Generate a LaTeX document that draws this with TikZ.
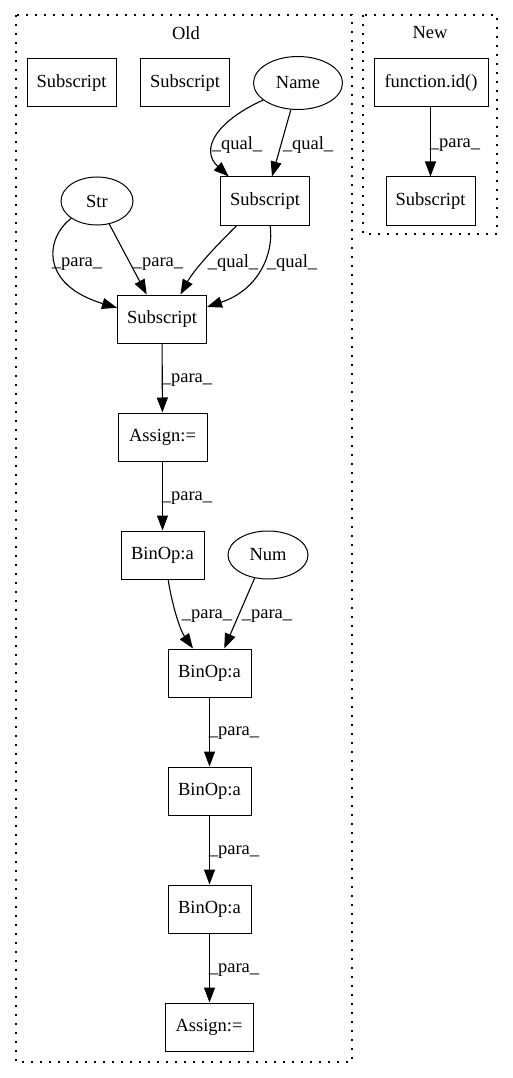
\documentclass[tikz,border=0pt]{standalone}
\usepackage{fontspec}
\setmainfont{Liberation Serif}
\usetikzlibrary{shapes.geometric,arrows.meta}
\begin{document}
\begin{tikzpicture}[x=1pt,y=-1pt,
  every node/.style={font=\fontsize{18.5}{20}\selectfont},
  box/.style={draw,line width=1pt,rectangle,inner sep=0pt,minimum height=48pt},
  oval/.style={draw,line width=1pt,ellipse,inner sep=0pt},
  lbl/.style={inner sep=0pt},
  cluster/.style={line width=1.3pt,dash pattern=on 1.6pt off 7.4pt},
  edge/.style={line width=1.1pt,-{Triangle[length=15pt,width=11pt]}}]
\useasboundingbox (0,0) rectangle (513,1078);

% clusters
\draw[cluster] (16,15) rectangle (352,1062);
\draw[cluster] (363,15) rectangle (497,234);
\node[lbl] (oldt) at (186,33) {Old};
\node[lbl] (newt) at (430,33) {New};

% Old
\node[box,minimum width=89pt] (s1) at (71.5,83) {Subscript};
\node[box,minimum width=89pt] (s2) at (185,83) {Subscript};
\node[oval,minimum width=89pt,minimum height=53pt] (name) at (298,83) {Name};
\node[oval,minimum width=72pt,minimum height=48pt] (str) at (97,201) {Str};
\node[box,minimum width=89pt] (s3) at (265,201) {Subscript};
\node[box,minimum width=89pt] (s4) at (162,319) {Subscript};
\node[box,minimum width=89pt] (as1) at (162.5,437) {Assign:=};
\node[box,minimum width=83pt] (b1) at (162.5,555) {BinOp:a};
\node[oval,minimum width=80pt,minimum height=48pt] (num) at (268,555) {Num};
\node[box,minimum width=83pt] (b2) at (209.5,673) {BinOp:a};
\node[box,minimum width=83pt] (b3) at (209.5,791) {BinOp:a};
\node[box,minimum width=83pt] (b4) at (209.5,909) {BinOp:a};
\node[box,minimum width=88pt] (as2) at (209,1027) {Assign:=};

% New
\node[box,minimum width=114pt] (fid) at (431,83) {function.id()};
\node[box,minimum width=89pt] (s5) at (430.5,201) {Subscript};

% edges
\draw[edge] (name.206) .. controls (215,122) and (200,150) .. (s3.146);
\draw[edge] (name.255) -- (s3.74);
\node[lbl] (q1) at (237,145) {\_qual\_};
\node[lbl] (q2) at (308,145) {\_qual\_};

\draw[edge] (str.214) .. controls (45,238) and (40,285) .. (s4.166);
\draw[edge] (str.298) -- (s4.122);
\node[lbl] (p1) at (77,264) {\_para\_};
\node[lbl] (p2) at (158,264) {\_para\_};

\draw[edge] (s3.221) .. controls (220,242) and (195,268) .. (s4.53);
\draw[edge] (s3.282) .. controls (274,255) and (258,290) .. (s4.15);
\node[lbl] (q3) at (233,263) {\_qual\_};
\node[lbl] (q4) at (292,263) {\_qual\_};

\draw[edge] (s4) -- (as1);
\node[lbl] (p3) at (187,380) {\_para\_};
\draw[edge] (as1) -- (b1);
\node[lbl] (p4) at (187,498) {\_para\_};

\draw[edge] (b1.283) .. controls (172,605) and (180,630) .. (b2.124);
\draw[edge] (num.240) -- (b2.59);
\node[lbl] (p5) at (207,616) {\_para\_};
\node[lbl] (p6) at (267,616) {\_para\_};

\draw[edge] (b2) -- (b3);
\node[lbl] (p7) at (234,733) {\_para\_};
\draw[edge] (b3) -- (b4);
\node[lbl] (p8) at (234,852) {\_para\_};
\draw[edge] (b4) -- (as2.north -| b4);
\node[lbl] (p9) at (234,970) {\_para\_};

\draw[edge] (fid.south -| s5) -- (s5);
\node[lbl] (p10) at (455,145) {\_para\_};
\end{tikzpicture}
\end{document}
